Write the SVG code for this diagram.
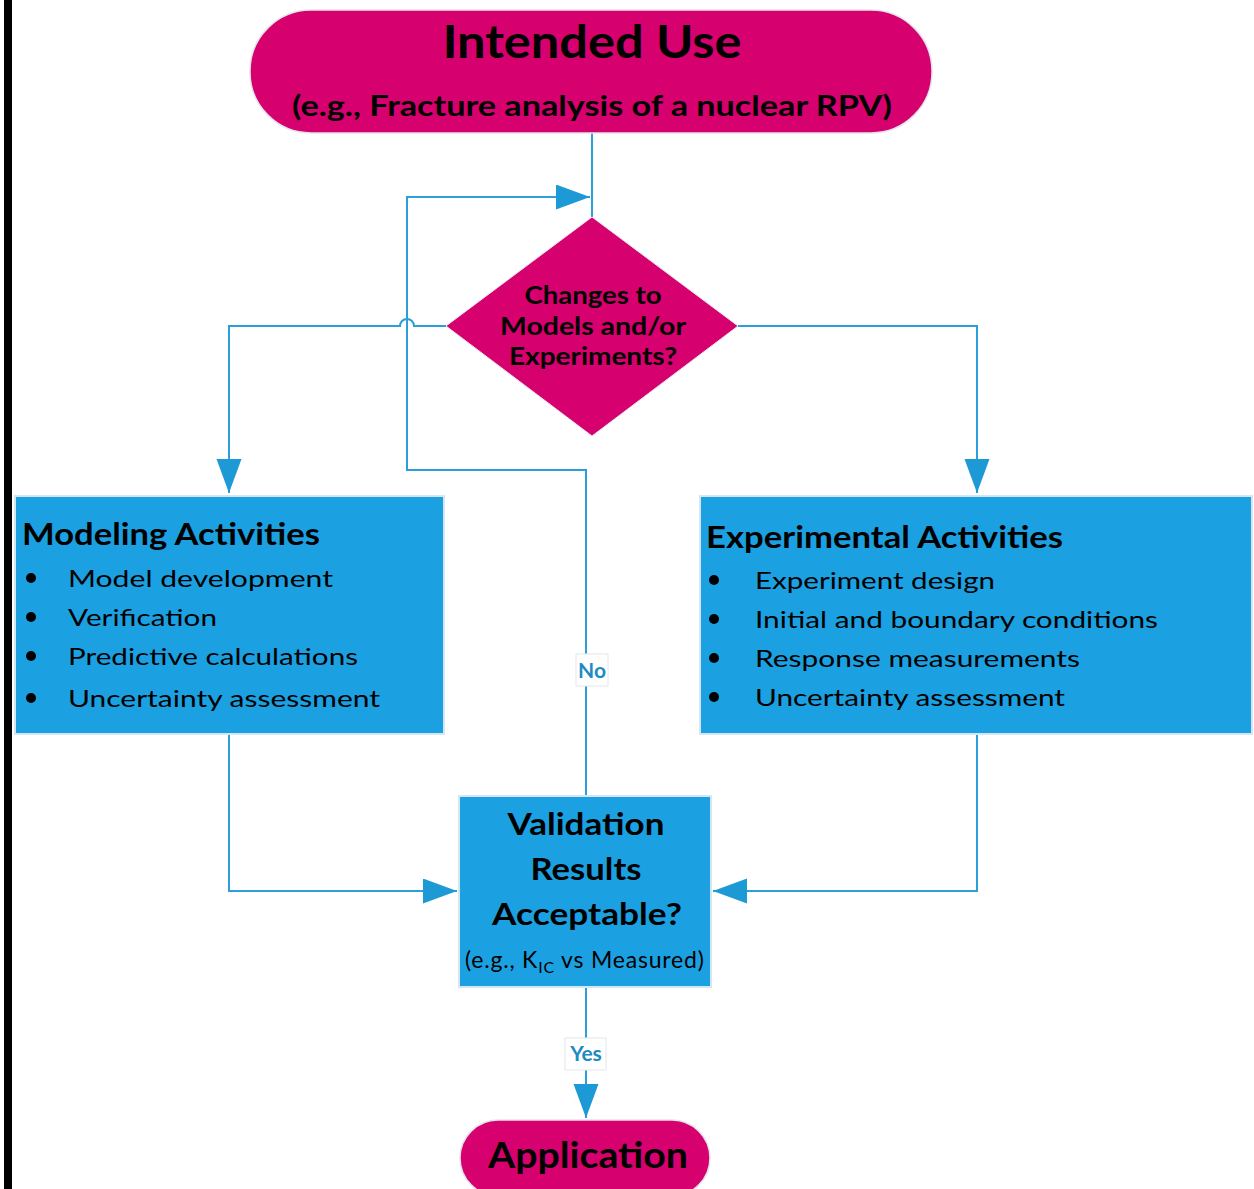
<svg xmlns="http://www.w3.org/2000/svg" width="1254" height="1189" viewBox="0 0 1254 1189">
<style>
.term{fill:#D6006E;stroke:#E4E4EC;stroke-width:1.5}
.box{fill:#1BA1E2;stroke:#D6E6F0;stroke-width:2}
.t{font-family:Lato,"Open Sans","Liberation Sans",sans-serif;fill:#000}
.b{font-weight:bold}
.c{text-anchor:middle}
.conn{fill:none;stroke:#2A9FD9;stroke-width:2}
.lbl{fill:#fff;stroke:#E2E8EE;stroke-width:1}
.lt{font-family:Lato,"Open Sans","Liberation Sans",sans-serif;font-weight:bold;fill:#1E8BC3;font-size:21px;text-anchor:middle}
</style>
<defs>
<marker id="ah" markerUnits="userSpaceOnUse" markerWidth="36" markerHeight="26" refX="34" refY="12.5" orient="auto">
<path d="M0,0 L34,12.5 L0,25 Z" fill="#1D9AD6"/>
</marker>
</defs>
<rect x="0" y="0" width="1254" height="1189" fill="#fff"/>
<rect x="4" y="0" width="8" height="1189" fill="#000"/>

<g id="connectors">
<path class="conn" d="M592,133 V217"/>
<path class="conn" d="M446,326 H414 A7,7 0 0 0 400,326 H229 V493" marker-end="url(#ah)"/>
<path class="conn" d="M738,326 H977 V493" marker-end="url(#ah)"/>
<path class="conn" d="M229,734 V891 H457" marker-end="url(#ah)"/>
<path class="conn" d="M977,734 V891 H713" marker-end="url(#ah)"/>
<path class="conn" d="M586,796 V470 H407 V197 H590" marker-end="url(#ah)"/>
<path class="conn" d="M586,987 V1118" marker-end="url(#ah)"/>
<g id="label-no">
<rect class="lbl" x="576" y="654" width="32" height="32"/>
<text class="lt" x="592" y="678">No</text>
</g>
<g id="label-yes">
<rect class="lbl" x="565" y="1038" width="41" height="32"/>
<text class="lt" x="586" y="1061">Yes</text>
</g>
</g>

<g id="intended-use">
<rect class="term" x="250" y="10" width="682" height="123" rx="61" ry="61"/>
<text class="t b c" x="592" y="58" font-size="45" textLength="299" lengthAdjust="spacingAndGlyphs">Intended Use</text>
<text class="t b c" x="592" y="116" font-size="28" textLength="600" lengthAdjust="spacingAndGlyphs">(e.g., Fracture analysis of a nuclear RPV)</text>
</g>

<g id="decision">
<polygon points="592,217 738,326 592,436 446,326" fill="#D6006E" stroke="#E4E4EC" stroke-width="1"/>
<text class="t b c" x="593" y="304" font-size="24" textLength="137" lengthAdjust="spacingAndGlyphs">Changes to</text>
<text class="t b c" x="593" y="335" font-size="24" textLength="186" lengthAdjust="spacingAndGlyphs">Models and/or</text>
<text class="t b c" x="593" y="365" font-size="24" textLength="168" lengthAdjust="spacingAndGlyphs">Experiments?</text>
</g>

<g id="modeling">
<rect class="box" x="15" y="496" width="429" height="238"/>
<text class="t b" x="22" y="545" font-size="30" textLength="298" lengthAdjust="spacingAndGlyphs">Modeling Activities</text>
<circle cx="31" cy="578" r="5" fill="#000"/>
<text class="t" x="68" y="587" font-size="24" textLength="265" lengthAdjust="spacingAndGlyphs">Model development</text>
<circle cx="31" cy="617" r="5" fill="#000"/>
<text class="t" x="68" y="626" font-size="24" textLength="149" lengthAdjust="spacingAndGlyphs">Verification</text>
<circle cx="31" cy="656" r="5" fill="#000"/>
<text class="t" x="68" y="665" font-size="24" textLength="290" lengthAdjust="spacingAndGlyphs">Predictive calculations</text>
<circle cx="31" cy="698" r="5" fill="#000"/>
<text class="t" x="68" y="707" font-size="24" textLength="312" lengthAdjust="spacingAndGlyphs">Uncertainty assessment</text>
</g>

<g id="experimental">
<rect class="box" x="700" y="496" width="552" height="238"/>
<text class="t b" x="706" y="548" font-size="30" textLength="357" lengthAdjust="spacingAndGlyphs">Experimental Activities</text>
<circle cx="714" cy="580" r="5" fill="#000"/>
<text class="t" x="755" y="589" font-size="24" textLength="240" lengthAdjust="spacingAndGlyphs">Experiment design</text>
<circle cx="714" cy="619" r="5" fill="#000"/>
<text class="t" x="755" y="628" font-size="24" textLength="403" lengthAdjust="spacingAndGlyphs">Initial and boundary conditions</text>
<circle cx="714" cy="658" r="5" fill="#000"/>
<text class="t" x="755" y="667" font-size="24" textLength="325" lengthAdjust="spacingAndGlyphs">Response measurements</text>
<circle cx="714" cy="697" r="5" fill="#000"/>
<text class="t" x="755" y="706" font-size="24" textLength="310" lengthAdjust="spacingAndGlyphs">Uncertainty assessment</text>
</g>

<g id="validation">
<rect class="box" x="459" y="796" width="252" height="191"/>
<text class="t b c" x="586" y="835" font-size="31" textLength="157" lengthAdjust="spacingAndGlyphs">Validation</text>
<text class="t b c" x="586" y="880" font-size="31" textLength="111" lengthAdjust="spacingAndGlyphs">Results</text>
<text class="t b c" x="587" y="925" font-size="31" textLength="190" lengthAdjust="spacingAndGlyphs">Acceptable?</text>
<text class="t" x="465" y="968" font-size="23" fill="#111" letter-spacing="0.8">(e.g., K<tspan font-size="16" dy="5">IC</tspan><tspan dy="-5"> vs Measured)</tspan></text>
</g>

<g id="application">
<rect class="term" x="460" y="1120" width="250" height="76" rx="38" ry="38"/>
<text class="t b c" x="588" y="1168" font-size="36" textLength="200" lengthAdjust="spacingAndGlyphs">Application</text>
</g>
</svg>
